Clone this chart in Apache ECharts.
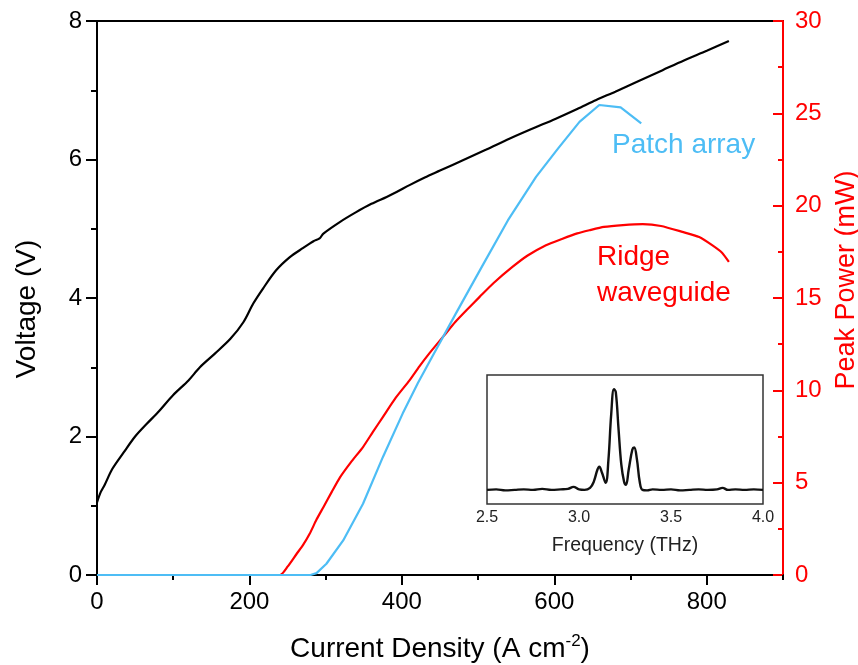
<!DOCTYPE html>
<html>
<head>
<meta charset="utf-8">
<script src="https://cdn.jsdelivr.net/npm/echarts@6/dist/echarts.min.js"></script>
<style>
  html, body { margin: 0; padding: 0; background: #fff; }
  #chart { width: 858px; height: 665px; }
</style>
</head>
<body>
<div id="chart"></div>
<script>
// Current density (A cm^-2) vs voltage (V) of the device
const ivCurrent = [0, 5, 10, 20, 35, 50, 65, 80, 100, 120, 135, 155, 175, 192, 205, 218, 235, 253, 270, 284, 292, 297, 319, 340, 360, 380, 393, 410, 430, 450, 480, 510, 541, 570, 602, 630, 655, 680, 710, 742, 770, 800, 829];
const ivVoltage = [1.05, 1.20, 1.30, 1.53, 1.77, 2.00, 2.18, 2.35, 2.60, 2.81, 3.00, 3.20, 3.41, 3.65, 3.92, 4.14, 4.40, 4.59, 4.72, 4.82, 4.86, 4.93, 5.10, 5.24, 5.36, 5.46, 5.53, 5.63, 5.74, 5.84, 5.99, 6.14, 6.30, 6.44, 6.59, 6.73, 6.86, 6.98, 7.13, 7.29, 7.43, 7.57, 7.71];

// Peak power (mW) of the ridge waveguide laser
const ridgeCurrent = [0, 240, 250, 262, 270, 279, 288, 297, 308, 319, 333, 349, 362, 375, 392, 410, 423, 436, 455, 470, 485, 502, 520, 545, 565, 589, 610, 630, 646, 665, 690, 716, 740, 768, 790, 807, 820, 829];
const ridgePower = [0, 0, 0.45, 1.15, 1.6, 2.23, 3.0, 3.67, 4.5, 5.3, 6.1, 6.93, 7.75, 8.55, 9.6, 10.54, 11.3, 12.0, 12.95, 13.7, 14.35, 15.06, 15.8, 16.68, 17.3, 17.86, 18.2, 18.5, 18.67, 18.85, 18.95, 19.0, 18.9, 18.58, 18.3, 17.86, 17.45, 16.95];

// Peak power (mW) of the patch array laser
const patchCurrent = [0, 280, 288, 301, 323, 349, 375, 401, 421, 436, 470, 505, 539, 576, 605, 633, 659, 687, 714];
const patchPower = [0, 0, 0.1, 0.61, 1.87, 3.86, 6.38, 8.74, 10.4, 11.53, 14.1, 16.7, 19.2, 21.56, 23.1, 24.54, 25.45, 25.32, 24.45];

// Emission spectrum of the patch array (normalised intensity)
const spectrumFreq = [2.5, 2.55, 2.6, 2.65, 2.7, 2.75, 2.8, 2.85, 2.9, 2.94, 2.97, 3.0, 3.03, 3.06, 3.08, 3.1, 3.11, 3.125, 3.145, 3.16, 3.175, 3.19, 3.2, 3.215, 3.23, 3.245, 3.255, 3.27, 3.29, 3.3, 3.315, 3.33, 3.345, 3.37, 3.4, 3.45, 3.5, 3.55, 3.6, 3.65, 3.7, 3.75, 3.78, 3.81, 3.85, 3.9, 3.95, 4.0];
const spectrumAmp = [0.0, 0.005, -0.005, 0.0, 0.005, 0.0, 0.01, 0.0, 0.005, 0.01, 0.03, 0.005, 0.0, 0.02, 0.08, 0.2, 0.23, 0.17, 0.07, 0.3, 0.75, 1.0, 0.97, 0.6, 0.25, 0.08, 0.05, 0.2, 0.4, 0.42, 0.3, 0.08, 0.0, -0.005, 0.005, 0.0, 0.005, -0.005, 0.0, 0.005, 0.0, 0.005, 0.02, 0.0, 0.005, 0.0, 0.005, 0.0];

// Tick values
const currentTicks = [0, 200, 400, 600, 800];
const currentMinorTicks = [100, 300, 500, 700, 900];
const voltageTicks = [0, 2, 4, 6, 8];
const powerTicks = [0, 5, 10, 15, 20, 25, 30];
const freqTicks = [2.5, 3.0, 3.5, 4.0];

const FONT = 'Liberation Sans, Arial, sans-serif';
const RED = '#ff0000';
const BLUE = '#4dbdf5';

const zip = (xs, ys) => xs.map((x, i) => [x, ys[i]]);

const chart = echarts.init(document.getElementById('chart'), null, { renderer: 'canvas' });

chart.setOption({
  animation: false,
  backgroundColor: '#fff',
  textStyle: { fontFamily: FONT },
  grid: [
    { left: 97, top: 21, right: 75, bottom: 90, show: true, borderColor: '#000', borderWidth: 2, containLabel: false, outerBoundsMode: 'none' },
    { left: 487, top: 375, width: 276, height: 129, show: true, borderColor: '#333', borderWidth: 1.5, backgroundColor: '#fff', containLabel: false, outerBoundsMode: 'none' }
  ],
  xAxis: [
    {
      type: 'value', gridIndex: 0, position: 'bottom',
      min: 0, max: 900, interval: 200,
      axisLine: { show: true, onZero: false, lineStyle: { color: '#000', width: 2 } },
      axisTick: { show: true, length: 10, customValues: currentTicks, lineStyle: { color: '#000', width: 2 } },
      axisLabel: { show: true, customValues: currentTicks, fontSize: 24, color: '#000', margin: 15, fontFamily: FONT },
      splitLine: { show: false },
      name: '{a|Current Density (A cm}{s|-2}{a|)}',
      nameLocation: 'middle', nameGap: 58,
      nameTextStyle: {
        fontFamily: FONT, color: '#000',
        rich: {
          a: { fontSize: 28, fontFamily: FONT, color: '#000', lineHeight: 32 },
          s: { fontSize: 17, fontFamily: FONT, color: '#000', verticalAlign: 'top', lineHeight: 32 }
        }
      }
    },
    {
      type: 'value', gridIndex: 0, position: 'bottom',
      min: 0, max: 900, interval: 100,
      axisLine: { show: false },
      axisTick: { show: true, length: 5, customValues: currentMinorTicks, lineStyle: { color: '#000', width: 2 } },
      axisLabel: { show: false },
      splitLine: { show: false }
    },
    {
      type: 'value', gridIndex: 1,
      min: 2.5, max: 4.0, interval: 0.5,
      axisLine: { show: false },
      axisTick: { show: false },
      axisLabel: { show: true, customValues: freqTicks, fontSize: 16, color: '#222', margin: 6, fontFamily: FONT, formatter: v => v.toFixed(1) },
      splitLine: { show: false },
      name: 'Frequency (THz)', nameLocation: 'middle', nameGap: 32,
      nameTextStyle: { fontSize: 19.5, color: '#222', fontFamily: FONT }
    }
  ],
  yAxis: [
    {
      type: 'value', gridIndex: 0, position: 'left',
      min: 0, max: 8, interval: 2,
      axisLine: { show: true, onZero: false, lineStyle: { color: '#000', width: 2 } },
      axisTick: { show: true, length: 11, customValues: voltageTicks, lineStyle: { color: '#000', width: 2 } },
      minorTick: { show: true, splitNumber: 2, length: 6, lineStyle: { color: '#000', width: 2 } },
      axisLabel: { show: true, customValues: voltageTicks, fontSize: 24, color: '#000', margin: 15, fontFamily: FONT },
      splitLine: { show: false },
      minorSplitLine: { show: false },
      name: 'Voltage (V)', nameLocation: 'middle', nameGap: 56,
      nameTextStyle: { fontSize: 28, color: '#000', fontFamily: FONT, padding: [0, 22, 0, 0] }
    },
    {
      type: 'value', gridIndex: 0, position: 'right',
      min: 0, max: 30, interval: 5,
      axisLine: { show: true, onZero: false, lineStyle: { color: RED, width: 2 } },
      axisTick: { show: true, inside: true, length: 10, customValues: powerTicks, lineStyle: { color: RED, width: 2 } },
      minorTick: { show: true, splitNumber: 2, length: 5, lineStyle: { color: RED, width: 2 } },
      axisLabel: { show: true, customValues: powerTicks, fontSize: 24, color: RED, margin: 12, fontFamily: FONT },
      splitLine: { show: false },
      minorSplitLine: { show: false },
      name: 'Peak Power (mW)', nameLocation: 'middle', nameGap: 47,
      nameTextStyle: { fontSize: 27, color: RED, fontFamily: FONT, padding: [0, 0, 0, 36] }
    },
    {
      type: 'value', gridIndex: 1,
      min: -0.14, max: 1.14,
      show: false
    }
  ],
  series: [
    {
      name: 'Voltage', type: 'line', xAxisIndex: 0, yAxisIndex: 0,
      data: zip(ivCurrent, ivVoltage), showSymbol: false, smooth: 0.3,
      lineStyle: { color: '#000', width: 2.2 }, itemStyle: { color: '#000' }, z: 3
    },
    {
      name: 'Ridge waveguide', type: 'line', xAxisIndex: 0, yAxisIndex: 1,
      data: zip(ridgeCurrent, ridgePower), showSymbol: false, smooth: 0.2,
      lineStyle: { color: RED, width: 2.2 }, itemStyle: { color: RED }, z: 3
    },
    {
      name: 'Patch array', type: 'line', xAxisIndex: 0, yAxisIndex: 1,
      data: zip(patchCurrent, patchPower), showSymbol: false, smooth: false,
      lineStyle: { color: BLUE, width: 2.2 }, itemStyle: { color: BLUE }, z: 4
    },
    {
      name: 'Spectrum', type: 'line', xAxisIndex: 2, yAxisIndex: 2,
      data: zip(spectrumFreq, spectrumAmp), showSymbol: false, smooth: 0.4,
      lineStyle: { color: '#111', width: 2.4 }, itemStyle: { color: '#111' }, z: 5
    }
  ],
  graphic: [
    {
      type: 'text', x: 612, y: 145, z: 10,
      style: { text: 'Patch array', fontSize: 28, fontFamily: FONT, fill: BLUE, verticalAlign: 'middle' }
    },
    {
      type: 'text', x: 597, y: 257, z: 10,
      style: { text: 'Ridge', fontSize: 28, fontFamily: FONT, fill: RED, verticalAlign: 'middle' }
    },
    {
      type: 'text', x: 597, y: 293, z: 10,
      style: { text: 'waveguide', fontSize: 28, fontFamily: FONT, fill: RED, verticalAlign: 'middle' }
    }
  ]
});
</script>
</body>
</html>
